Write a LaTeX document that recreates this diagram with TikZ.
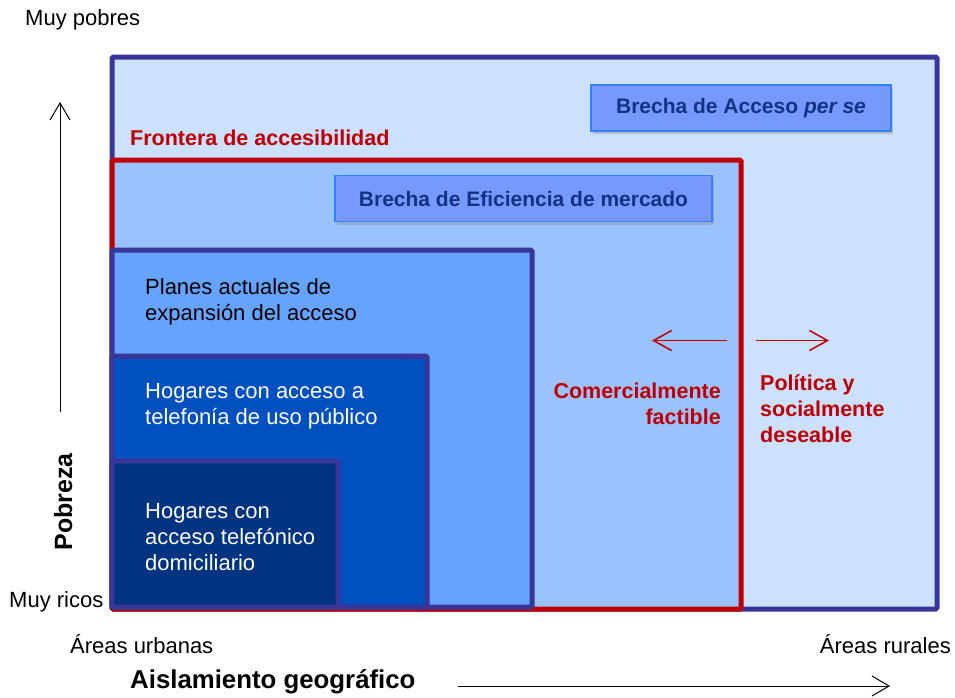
\documentclass[tikz,border=0pt]{standalone}
\usepackage{fontspec}
\setmainfont{Liberation Sans}
\usetikzlibrary{arrows.meta,shadows}
\definecolor{frameblue}{RGB}{56,54,152}
\definecolor{fillA}{RGB}{204,224,255}
\definecolor{fillB}{RGB}{153,194,255}
\definecolor{fillC}{RGB}{102,163,255}
\definecolor{fillD}{RGB}{0,80,192}
\definecolor{fillE}{RGB}{0,51,128}
\definecolor{redline}{RGB}{192,0,0}
\definecolor{tagfill}{RGB}{119,153,255}
\definecolor{tagline}{RGB}{51,128,255}
\definecolor{tagtext}{RGB}{20,50,130}
\begin{document}
\begin{tikzpicture}[x=1pt,y=-1pt,
  region/.style={draw=frameblue,line width=5pt,rounded corners=1.5pt},
  txt/.style={inner sep=0pt,align=left,font=\fontsize{22}{26}\selectfont},
  redtxt/.style={inner sep=0pt,text=redline,font=\bfseries\fontsize{21.5}{26}\selectfont},
  tag/.style={draw=tagline,fill=tagfill,line width=1.5pt,text=tagtext,minimum height=46pt,
    font=\bfseries\fontsize{21}{24}\selectfont,drop shadow={shadow xshift=2pt,shadow yshift=-3pt,opacity=0.35}},
  axisarrow/.style={line width=1pt,-{Straight Barb[length=17pt,width=20pt]}},
  redarrow/.style={draw=redline,line width=1.5pt,-{Straight Barb[length=18pt,width=20pt]}}]
\useasboundingbox (0,0) rectangle (955,697);
% regions
\draw[region,fill=fillA] (112,57) rectangle (937,609);
\draw[region,draw=redline,fill=fillB] (112,160) rectangle (741,609);
\draw[region,fill=fillC] (112,250) rectangle (532,607);
\draw[region,fill=fillD] (112,356) rectangle (427,607);
\draw[region,fill=fillE] (112,461) rectangle (338,607);
% tags
\node[tag,minimum width=300pt] (acceso) at (741,108) {Brecha de Acceso \textit{per se}};
\node[tag,minimum width=377pt] (eficiencia) at (523.5,198.5) {Brecha de Eficiencia de mercado};
% red labels
\node[redtxt,anchor=base west] (frontera) at (130,145) {Frontera de accesibilidad};
\node[redtxt,anchor=north east,align=right] (comercial) at (721,383) {Comercialmente\\factible};
\node[redtxt,anchor=north west,align=left] (politica) at (760,375) {Política y\\socialmente\\deseable};
% inner labels
\node[txt,anchor=north west] (planes) at (145,278) {Planes actuales de\\expansión del acceso};
\node[txt,anchor=north west,text=white] (publico) at (145,383) {Hogares con acceso a\\telefonía de uso público};
\node[txt,anchor=north west,text=white] (domicilio) at (145,503) {Hogares con\\acceso telefónico\\domiciliario};
% red arrows
\coordinate (la0) at (727,340.5);
\coordinate (la1) at (652,340.5);
\coordinate (ra0) at (756,340.5);
\coordinate (ra1) at (829,340.5);
\draw[redarrow] (la0) -- (la1);
\draw[redarrow] (ra0) -- (ra1);
% axes
\node[txt,anchor=base west] (muypobres) at (25,25) {Muy pobres};
\node[txt,anchor=base west] (muyricos) at (9,607) {Muy ricos};
\node[txt,anchor=base west] (urbanas) at (70,653) {Áreas urbanas};
\node[txt,anchor=base east] (rurales) at (951,653) {Áreas rurales};
\node[inner sep=0pt,anchor=base west,font=\bfseries\fontsize{25.8}{30}\selectfont] (aislamiento) at (130,688) {Aislamiento geográfico};
\node[inner sep=0pt,anchor=base,rotate=90,font=\bfseries\fontsize{25}{30}\selectfont] (pobreza) at (72,502) {Pobreza};
\coordinate (v0) at (60,412);
\coordinate (v1) at (60,102);
\coordinate (h0) at (458,686);
\coordinate (h1) at (890,686);
\draw[axisarrow] (v0) -- (v1);
\draw[axisarrow] (h0) -- (h1);
\end{tikzpicture}
\end{document}
